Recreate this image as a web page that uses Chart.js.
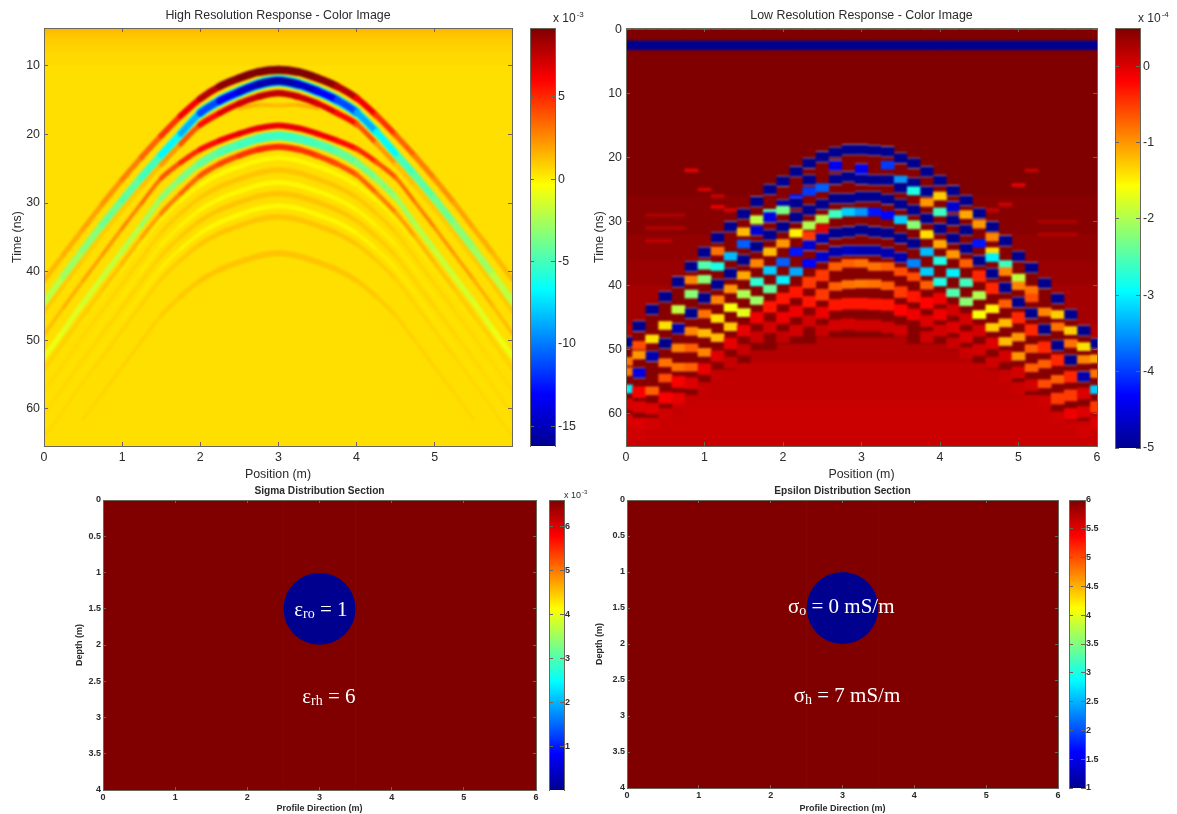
<!DOCTYPE html>
<html>
<head>
<meta charset="utf-8">
<title>GPR response</title>
<script src="https://cdn.jsdelivr.net/npm/chart.js@4/dist/chart.umd.min.js"></script>
<style>
html, body { margin: 0; padding: 0; background: #fff; width: 1177px; height: 814px; overflow: hidden; }
canvas { position: absolute; }
</style>
</head>
<body>
<script>
// ---- data ----

const jetStops = [[0, 0, 0, 143], [0.125, 0, 0, 255], [0.375, 0, 255, 255], [0.625, 255, 255, 0], [0.875, 255, 0, 0], [1, 128, 0, 0]];

const positionTicks = [0, 1, 2, 3, 4, 5, 6];
const hiResTimeTicks = [10, 20, 30, 40, 50, 60];
const lowResTimeTicks = [0, 10, 20, 30, 40, 50, 60];
const depthTicks = [0, 0.5, 1, 1.5, 2, 2.5, 3, 3.5, 4];
const hiResBarTicks = [5, 0, -5, -10, -15];
const lowResBarTicks = [0, -1, -2, -3, -4, -5];
const sigmaBarTicks = [1, 2, 3, 4, 5, 6];
const epsilonBarTicks = [1, 1.5, 2, 2.5, 3, 3.5, 4, 4.5, 5, 5.5, 6];

// high resolution panel: one time per position for each reflection band
const hiResPositions = [0, 0.25, 0.5, 0.75, 1, 1.25, 1.5, 1.75, 2, 2.25, 2.5, 2.75, 3, 3.25, 3.5, 3.75, 4, 4.25, 4.5, 4.75, 5, 5.25, 5.5, 5.75, 6];
const hiResFieldEdges = [4.4, 5, 5.5, 6, 7, 8, 10, 65.5];
const hiResFieldValues = [1.5, 1.25, 1.05, 0.9, 0.75, 0.6, 0.47];

const mainTimes = [44.5, 40.6, 36.8, 33.1, 29.6, 26.2, 23, 19.9, 16.9, 15.1, 13.8, 12.7, 12.2, 12.7, 13.7, 15, 16.8, 19.6, 22.8, 26, 29.4, 33, 36.7, 40.5, 44.4];
const mainValues = [-1.5, -2.5, -3, -3.6, -4.2, -4.6, -5.5, -6.5, -7, -7, -7, -7, -7, -7, -7, -7, -7, -6.5, -5.5, -4.6, -4.2, -3.6, -3, -2.5, -1.5];
const coreTimes = [null, null, null, null, null, null, 23, 19.9, 16.9, 15.1, 13.8, 12.7, 12.2, 12.7, 13.7, 15, 16.8, 19.6, 22.8, null, null, null, null, null, null];
const coreValues = [0, 0, 0, 0, 0, 0, -6, -7.5, -10, -12.5, -14, -15, -15.5, -15, -14, -12.5, -10, -7.5, -6, 0, 0, 0, 0, 0, 0];
const mainAboveTimes = [41.3, 37.5, 33.8, 30.1, 26.6, 23.3, 20.2, 17.3, 14.8, 13, 11.8, 10.9, 10.6, 10.9, 11.8, 13, 14.7, 17.2, 20.1, 23.2, 26.5, 30, 33.7, 37.4, 41.2];
const mainAboveValues = [1.3, 1.5, 1.8, 2.1, 2.6, 3.1, 4, 5.5, 7, 8.5, 9.2, 9.2, 9.2, 9.2, 9.2, 8.5, 7, 5.5, 4, 3.1, 2.6, 2.1, 1.8, 1.5, 1.3];
const mainBelowTimes = [45.9, 42, 38.2, 34.5, 31, 27.6, 24.4, 21.4, 18.6, 16.9, 15.5, 14.5, 14, 14.5, 15.5, 16.9, 18.5, 21.3, 24.3, 27.5, 30.9, 34.4, 38.1, 41.9, 45.8];
const mainBelowValues = [1, 1, 0.9, 0.9, 0.9, 1, 1.4, 3, 5, 6.5, 7, 7.5, 7.5, 7.5, 7, 6.5, 5, 3, 1.4, 1, 0.9, 0.9, 0.9, 1, 1];
const secondTimes = [52.5, 48.6, 44.6, 40.8, 37, 33.2, 29.3, 26.5, 24.2, 22.6, 21.5, 20.6, 20.2, 20.6, 21.4, 22.5, 24.1, 26.4, 29.2, 33.1, 36.9, 40.7, 44.5, 48.5, 52.4];
const secondValues = [-0.6, -1, -1.3, -1.6, -1.9, -2.4, -3, -3.5, -4, -4.5, -5, -5.2, -5.3, -5.2, -5, -4.5, -4, -3.5, -3, -2.4, -1.9, -1.6, -1.3, -1, -0.6];
const secondAboveTimes = [49.2, 45.2, 41.3, 37.5, 33.7, 30, 26.4, 24.1, 22.2, 20.9, 19.9, 19.1, 18.7, 19.1, 19.9, 20.9, 22.1, 24, 26.3, 29.9, 33.6, 37.4, 41.2, 45.1, 49.1];
const secondAboveValues = [1.2, 1.4, 1.8, 2.1, 2.4, 3, 3.5, 4.5, 5.5, 6, 6.5, 6.5, 6.5, 6.5, 6.5, 6, 5.5, 4.5, 3.5, 3, 2.4, 2.1, 1.8, 1.4, 1.2];
const secondBelowTimes = [54.3, 50.3, 46.4, 42.6, 38.8, 35, 31.5, 28.6, 26, 24.3, 23.1, 22.2, 21.8, 22.2, 23.1, 24.3, 25.9, 28.5, 31.4, 34.9, 38.7, 42.5, 46.3, 50.2, 54.2];
const secondBelowValues = [0.8, 0.8, 0.9, 1, 1.3, 1.6, 2.4, 3.2, 3.8, 4.2, 4.5, 5, 5, 5, 4.5, 4.2, 3.8, 3.2, 2.4, 1.6, 1.3, 1, 0.9, 0.8, 0.8];
const glitchTimes = [null, null, null, null, null, null, null, null, null, null, 16.2, 15.7, 15.8, 15.7, 16.2, null, null, null, null, null, null, null, null, null, null];
const glitchValues = [0, 0, 0, 0, 0, 0, 0, 0, 0, 0, 1.6, 1.6, 1.2, 1.6, 1.6, 0, 0, 0, 0, 0, 0, 0, 0, 0, 0];
const lowerArc1 = [57.4, 53.4, 49.4, 45.6, 41.8, 38, 34.3, 31.5, 29.2, 27.6, 26.5, 25.6, 25.2, 25.6, 26.5, 27.6, 29.2, 31.5, 34.3, 38, 41.8, 45.6, 49.4, 53.4, 57.4];
const lowerArc2 = [60.8, 56.8, 52.8, 49, 45.2, 41.4, 37.7, 34.9, 32.6, 31, 29.9, 29, 28.6, 29, 29.9, 31, 32.6, 34.9, 37.7, 41.4, 45.2, 49, 52.8, 56.8, 60.8];
const lowerArc3 = [64.2, 60.2, 56.2, 52.4, 48.6, 44.8, 41.1, 38.3, 36, 34.4, 33.3, 32.4, 32, 32.4, 33.3, 34.4, 36, 38.3, 41.1, 44.8, 48.6, 52.4, 56.2, 60.2, 64.2];
const lowerArc4 = [null, null, 61.5, 57.7, 53.9, 50.1, 46.4, 43.6, 41.3, 39.7, 38.6, 37.7, 37.3, 37.7, 38.6, 39.7, 41.3, 43.6, 46.4, 50.1, 53.9, 57.7, 61.5, null, null];
const lowerArcValues = [0.6, 0.62, 0.65, 0.68, 0.72, 0.78, 0.85, 0.95, 1.05, 1.1, 1.1, 1.1, 1.1, 1.1, 1.1, 1.1, 1.05, 0.95, 0.85, 0.78, 0.72, 0.68, 0.65, 0.62, 0.6];
const paleArc1 = [55.5, 51.5, 47.5, 43.7, 39.9, 36.1, 32.4, 29.6, 27.4, 25.8, 24.7, 23.8, 23.4, 23.8, 24.7, 25.8, 27.4, 29.6, 32.4, 36.1, 39.9, 43.7, 47.5, 51.5, 55.5];
const paleArc2 = [59.2, 55.2, 51.2, 47.4, 43.6, 39.8, 36.1, 33.3, 31, 29.4, 28.3, 27.4, 27, 27.4, 28.3, 29.4, 31, 33.3, 36.1, 39.8, 43.6, 47.4, 51.2, 55.2, 59.2];
const paleArc3 = [62.6, 58.6, 54.6, 50.8, 47, 43.2, 39.5, 36.7, 34.4, 32.8, 31.7, 30.8, 30.4, 30.8, 31.7, 32.8, 34.4, 36.7, 39.5, 43.2, 47, 50.8, 54.6, 58.6, 62.6];
const paleArcValues = [0.42, 0.4, 0.38, 0.35, 0.3, 0.2, 0.1, 0, -0.15, -0.2, -0.2, -0.2, -0.2, -0.2, -0.2, -0.2, -0.15, 0, 0.1, 0.2, 0.3, 0.35, 0.38, 0.4, 0.42];

// low resolution panel: 37 traces, each with the times and amplitudes of its visible cells
const lowResColumns = [0, 0.1667, 0.3333, 0.5, 0.6667, 0.8333, 1, 1.1667, 1.3333, 1.5, 1.6667, 1.8333, 2, 2.1667, 2.3333, 2.5, 2.6667, 2.8333, 3, 3.1667, 3.3333, 3.5, 3.6667, 3.8333, 4, 4.1667, 4.3333, 4.5, 4.6667, 4.8333, 5, 5.1667, 5.3333, 5.5, 5.6667, 5.8333, 6];
const lowResFieldEdges = [0, 1.8, 3.3, 26, 32, 36, 40, 46, 52, 58, 65.2];
const lowResFieldValues = [0.5, -5, 0.5, 0.45, 0.4, 0.36, 0.3, 0.22, 0.14, 0.1];
const lowResDarkTop = [48.8, 46.3, 43.7, 41.7, 39.4, 37, 34.8, 32.5, 30.8, 28.8, 26.9, 25, 23.7, 22.2, 20.9, 19.9, 19.2, 18.8, 18.7, 18.9, 19.1, 20.1, 20.9, 22.2, 23.6, 25.2, 26.7, 28.7, 30.8, 33, 35.4, 37.2, 39.6, 42, 44.5, 47, 49];
const lowResDarkEnd = [60, 61, 61, 60, 58, 57, 55, 54, 53, 52, 50, 50, 49, 49, 49, 48, 48, 48, 48, 48, 48, 48, 49, 49, 49, 50, 50, 52, 53, 54, 55, 57, 58, 60, 61, 61, 60];
const lowResTimes = [
  [48.8, 51.8, 53.4, 56.1, 58.5, 61, 63.5],
  [46.3, 49.3, 50.8, 53.6, 56.6, 58.9, 61.5, 63.5],
  [43.7, 48.3, 51, 56.4, 59.2, 61.5],
  [41.7, 46.2, 49, 52, 54.4, 57.5, 60],
  [39.4, 43.7, 46.7, 49.7, 52.7, 55, 57.6, 60],
  [37, 39.1, 41.3, 44.3, 47.1, 49.7, 52.7, 55.2, 58],
  [34.8, 36.8, 39, 41.9, 44.4, 47.4, 50.4, 53, 56],
  [32.5, 34.6, 37, 39.8, 42.2, 45.1, 48.1, 51, 54],
  [30.8, 35.4, 38.1, 40.5, 43.4, 46.4, 49, 52],
  [28.8, 31.6, 33.5, 36, 38.4, 41.3, 44.2, 47, 50],
  [26.9, 29.7, 31.4, 33.9, 36.5, 39.4, 42.3, 45, 48],
  [25, 28.7, 29.3, 32.1, 34.7, 37.6, 40.5, 43.3, 46.5],
  [23.7, 27.4, 28.2, 30.8, 33.4, 36.3, 39.1, 42, 45, 48],
  [22.2, 26.4, 27.1, 29.3, 31.8, 34.7, 37.8, 41, 44, 47],
  [20.9, 23.5, 25.3, 28.2, 30.6, 32.4, 33.7, 36.5, 39.5, 42.5, 45.5],
  [19.9, 24.7, 27.3, 29.6, 31.3, 32.6, 35.5, 38.4, 41.4, 44.2, 47],
  [19.2, 21.3, 23.4, 26.4, 28.8, 31.8, 34.7, 37, 40.1, 43, 46.2],
  [18.8, 23, 26.4, 28.5, 31.6, 34.5, 36.5, 39.8, 42.8, 46],
  [18.8, 21.8, 23.4, 26.1, 28.5, 31.3, 34.5, 36.5, 39.7, 42.8, 46.2],
  [18.9, 23.5, 26.1, 28.5, 31.6, 34.5, 37, 39.7, 42.9, 46.2],
  [19.1, 21.2, 23.5, 26.5, 29, 31.8, 34.9, 37, 40, 43, 46.5],
  [20.1, 23.5, 24.7, 27.3, 29.7, 32.6, 35.6, 37.8, 41, 43.8, 47],
  [20.9, 24, 25.2, 28.2, 30.5, 33.4, 36.5, 38.6, 41.7, 44.5],
  [22.2, 25.3, 27, 29.5, 32, 34.7, 37.8, 39.9, 42.7, 45.5, 48],
  [23.6, 26, 28.5, 31.1, 33.5, 36.1, 39.4, 42, 44.5, 47],
  [25.2, 27.7, 29.8, 32.6, 35.1, 38, 41.1, 43.8, 46.5, 49],
  [26.7, 28.9, 31.3, 34.2, 36.5, 39.5, 42.5, 45.2, 48, 50.5],
  [28.7, 30.4, 33.4, 36.1, 38.5, 41.5, 44.5, 47, 50],
  [30.8, 32.4, 34.7, 35.6, 38.1, 40.4, 43.6, 46.5, 49, 52],
  [33, 36.7, 37.8, 40.3, 42.8, 45.8, 48.7, 51, 54],
  [35.4, 38.8, 40, 42.6, 45, 48, 51, 53.5, 56],
  [37.2, 40.7, 41.9, 44.3, 46.9, 49.8, 52.8, 55.5, 58],
  [39.6, 44.1, 46.8, 49.6, 52.2, 55.3, 58],
  [42, 44.5, 46.4, 49.3, 51.6, 54.6, 57.6, 60.5],
  [44.5, 47, 49, 51.6, 54.2, 57.1, 60, 62.5],
  [47, 49.5, 51.5, 54.2, 56.8, 59.7, 62.6],
  [49, 51.4, 53.7, 56.2, 58.9, 61.5, 64]
];
const lowResValues = [
  [-5, -0.8, -0.8, -3, 0, 0, 0.05],
  [-5, -0.6, -1, -4.5, -0.15, 0, 0, 0.08],
  [-5, -1.4, -4.8, -0.7, 0, 0.05],
  [-5, -1.4, -5, -0.8, -0.6, -0.15, 0.08],
  [-5, -1.9, -4.8, -0.9, -0.8, -0.15, -0.05, 0.12],
  [-5, -0.9, -2.2, -5, -0.9, -0.7, -0.7, 0, 0.12],
  [-5, -2.5, -2.2, -5, -0.8, -1.2, -0.9, -0.05, 0.12],
  [-5, -0.8, -2.8, -5, -0.9, -1.4, -1.2, 0, 0.12],
  [-5, -3.3, -5, -1, -1.6, -1.3, -0.05, 0.12],
  [-5, -1.2, -3.8, -5, -1.1, -2, -1.7, -0.05, 0.12],
  [-5, -1.9, -4.6, -5, -0.9, -2.7, -2.1, -0.1, 0.1],
  [-5, -2.5, -4.5, -5, -1.2, -3.2, -2.4, -0.3, 0.05],
  [-5, -4.8, -2.3, -5, -1, -3.8, -3, -0.3, -0.1, 0.14],
  [-5, -4.2, -5, -5, -1.5, -4.2, -3.4, -0.3, -0.1, 0.05],
  [-5, -5, -4, -5, -2, -0.5, -4.6, -4.3, -0.5, -0.3, 0.05],
  [-5, -3.8, -5, -2, 0, -4.8, -4.6, -0.5, -0.5, -0.1, 0.1],
  [-5, -4.4, -5, -5, -2.6, -5, -4.8, -0.7, -0.7, -0.3, 0.05],
  [-5, -5, -5, -3.2, -5, -4.7, -0.7, -0.8, -0.3, 0.05],
  [-5, -4.4, -5, -5, -3.5, -5, -4.8, -0.8, -0.85, -0.3, 0.08],
  [-5, -5, -5, -4.2, -5, -4.8, -0.8, -0.8, -0.3, 0.08],
  [-5, -4, -5, -5, -4.3, -5, -4.8, -0.7, -0.7, -0.3, 0.08],
  [-5, -3.5, -5, -5, -3.2, -5, -4.8, -0.6, -0.5, -0.2, 0.08],
  [-5, -5, -2.8, -5, -2.2, -5, -3.6, -0.6, -0.3, -0.1],
  [-5, -5, -1, -5, -1.4, -3.3, -3.2, -0.7, -0.2, 0, 0.08],
  [-5, -1.3, -2.6, -5, -1.1, -2.8, -2.8, -0.1, -0.1, 0.05],
  [-5, -4.6, -5, -5, -1, -3, -2.5, 0.05, 0, 0.1],
  [-5, -1.1, -5, -5, -0.7, -2.6, -2.2, 0.05, 0, 0.1],
  [-5, -1, -4.2, -5, -0.4, -2, -1.6, 0.05, 0.05],
  [-5, -0.9, -1.4, -3, -5, -0.4, -1.5, -1.3, 0, 0.08],
  [-5, -2.6, -0.9, -5, -0.7, -1.2, -1.2, 0.05, 0.1],
  [-5, -1.9, -0.9, -5, -0.4, -1, -1, 0.05, 0.1],
  [-5, -0.8, -0.6, -5, -0.4, -0.7, -0.7, 0.05, 0.1],
  [-5, -0.9, -5, -0.4, -0.7, -0.6, 0.08],
  [-5, -1.3, -0.8, -5, -0.4, -0.7, -0.5, 0.08],
  [-5, -1.3, -0.8, -5, -0.4, -0.5, -0.1, 0.1],
  [-5, -1.4, -0.9, -4.8, 0, 0, 0.05],
  [-5, -1.1, -0.8, -3.2, -0.5, 0, 0.1]
];
// faint thin streaks outside the hyperbola
const streakColumns = [5, 6, 7, 7, 8, 31, 30, 29, 28, 2, 3, 4, 2, 3, 4, 2, 3, 34, 33, 32, 34, 33, 32];
const streakTimes = [22, 25, 26, 27.7, 28.2, 22, 24.3, 27.3, 28.2, 29, 29, 29, 31, 31, 31, 33, 33, 30, 30, 30, 32, 32, 32];
const streakValues = [-0.1, 0, 0.1, -0.1, 0, 0.1, -0.1, 0.05, 0.1, 0.25, 0.25, 0.25, 0.2, 0.2, 0.2, 0.15, 0.15, 0.25, 0.25, 0.25, 0.2, 0.2, 0.2];

// model sections: a circle inside a uniform host
const sectionX = [0, 1, 2, 3, 4, 5, 6];
const sectionHostDepth = [0, 4];
const circleX = [3];
const circleDepth = [1.5];
const circleRadius = [0.5];
const sigmaHostValue = 6.6;
const sigmaCircleValue = 0;
const epsilonHostValue = 6;
const epsilonCircleValue = 1;

// ---- helpers ----

function jetColor(value, low, high) {
    let f = Math.min(1, Math.max(0, (value - low) / (high - low)));
    for (let i = 1; i < jetStops.length; i++) {
        if (f <= jetStops[i][0]) {
            let a = jetStops[i - 1];
            let b = jetStops[i];
            let t = (f - a[0]) / (b[0] - a[0]);
            return "rgb(" + Math.round(a[1] + (b[1] - a[1]) * t) + "," + Math.round(a[2] + (b[2] - a[2]) * t) + "," + Math.round(a[3] + (b[3] - a[3]) * t) + ")";
        }
    }
    return "rgb(128,0,0)";
}

const frameColor = "#6b665c";
const textColor = "#2b2b2b";

function makeCanvas(left, top, right, bottom) {
    let c = document.createElement("canvas");
    c.width = right - left;
    c.height = bottom - top;
    c.style.left = left + "px";
    c.style.top = top + "px";
    document.body.appendChild(c);
    return c;
}

function frameAxis(position, min, max, tickList, reach, extra) {
    let vertical = position === "left" || position === "right";
    return {
        type: "linear",
        position: position,
        min: min,
        max: max,
        offset: false,
        reverse: vertical && extra.reverse,
        afterBuildTicks: function (scale) { scale.ticks = tickList.map(v => ({ value: v })); },
        afterFit: function (scale) {
            if (vertical) { scale.width = reach; } else { scale.height = reach; }
        },
        grid: { drawOnChartArea: false, offset: false, tickLength: -extra.tick, tickColor: frameColor, z: 1 },
        border: { color: frameColor, z: 1 },
        ticks: {
            autoSkip: false, maxRotation: 0, minRotation: 0, padding: extra.pad + extra.tick,
            color: textColor, font: extra.font,
            callback: extra.noLabels ? (() => "") : (v => String(v))
        },
        title: extra.title ? { display: true, text: extra.title, color: textColor, font: extra.font, padding: { top: extra.titlePad, bottom: 0 } } : { display: false }
    };
}

function plotScales(xRange, yRange, xTicks, yTicks, g) {
    let common = { tick: g.tick, pad: g.pad, font: g.font, reverse: true };
    let bare = Object.assign({}, common, { noLabels: true });
    return {
        x: frameAxis("bottom", xRange[0], xRange[1], xTicks, g.bottom, Object.assign({}, common, { title: g.xTitle, titlePad: g.xTitlePad })),
        y: frameAxis("left", yRange[0], yRange[1], yTicks, g.left, Object.assign({}, common, { title: g.yTitle, titlePad: g.yTitlePad })),
        xTop: frameAxis("top", xRange[0], xRange[1], xTicks, 0, bare),
        yRight: frameAxis("right", yRange[0], yRange[1], yTicks, g.left, bare)
    };
}

// the reference is a soft scan: blur the finished marks once, inside the plot
function softPlugin(radius) {
    return {
        id: "soft",
        afterDatasetsDraw(chart) {
            let a = chart.chartArea;
            let ctx = chart.ctx;
            ctx.save();
            ctx.beginPath();
            ctx.rect(a.left, a.top, a.right - a.left, a.bottom - a.top);
            ctx.clip();
            ctx.filter = "blur(" + radius + "px)";
            ctx.drawImage(chart.canvas, 0, 0);
            ctx.restore();
        }
    };
}

function backdropPlugin(color) {
    return {
        id: "backdrop",
        beforeDatasetsDraw(chart) {
            let a = chart.chartArea;
            chart.ctx.save();
            chart.ctx.fillStyle = color;
            chart.ctx.fillRect(a.left, a.top, a.right - a.left, a.bottom - a.top);
            chart.ctx.restore();
        }
    };
}

function basePlugins(title, g) {
    return {
        legend: { display: false },
        tooltip: { enabled: false },
        title: {
            display: true, text: title, color: textColor,
            font: Object.assign({ lineHeight: 1 }, g.headFont),
            padding: { top: g.headTop, bottom: g.headBottom }
        }
    };
}

function bandDataset(times, values, thick, order, low, high) {
    return {
        type: "line",
        order: order,
        data: hiResPositions.map((p, i) => ({ x: p, y: times[i] })),
        pointRadius: 0,
        tension: 0.3,
        borderCapStyle: "round",
        borderColor: "transparent",
        segment: {
            borderWidth: function (ctx) {
                let dx = ctx.p1.x - ctx.p0.x;
                let dy = ctx.p1.y - ctx.p0.y;
                return thick * 6.86 * Math.abs(dx) / Math.sqrt(dx * dx + dy * dy);
            },
            borderColor: function (ctx) {
                return jetColor((values[ctx.p0DataIndex] + values[ctx.p1DataIndex]) / 2, low, high);
            }
        }
    };
}

function colorBar(box, plot, low, high, tickList, font, pad, exponent) {
    let canvas = makeCanvas(box[0], box[1], box[2], box[3]);
    let exponentPlugin = {
        id: "exponent",
        afterDraw(chart) {
            if (!exponent) { return; }
            let ctx = chart.ctx;
            ctx.save();
            ctx.fillStyle = textColor;
            ctx.textBaseline = "alphabetic";
            ctx.font = exponent.font + "px 'Liberation Sans'";
            ctx.fillText("x 10", exponent.x - box[0], exponent.y - box[1]);
            let w = ctx.measureText("x 10").width;
            ctx.font = Math.round(exponent.font * 0.65) + "px 'Liberation Sans'";
            ctx.fillText(exponent.power, exponent.x - box[0] + w + 1, exponent.y - box[1] - exponent.font * 0.42);
            ctx.restore();
        }
    };
    return new Chart(canvas, {
        type: "bar",
        data: {
            labels: ["scale"],
            datasets: [{
                data: [[low, high]],
                barPercentage: 1,
                categoryPercentage: 1,
                backgroundColor: function (ctx) {
                    let area = ctx.chart.chartArea;
                    if (!area) { return "#800000"; }
                    let grad = ctx.chart.ctx.createLinearGradient(0, area.bottom, 0, area.top);
                    jetStops.forEach(s => grad.addColorStop(s[0], "rgb(" + s[1] + "," + s[2] + "," + s[3] + ")"));
                    return grad;
                }
            }]
        },
        options: {
            responsive: false,
            animation: false,
            events: [],
            layout: { autoPadding: false, padding: { left: plot[0] - box[0], top: plot[1] - box[1], bottom: box[3] - plot[3], right: 0 } },
            plugins: { legend: { display: false }, tooltip: { enabled: false } },
            scales: {
                x: { display: false },
                y: frameAxis("right", low, high, tickList, box[2] - plot[2], { tick: 4, pad: pad, font: font, reverse: false }),
                yLeft: frameAxis("left", low, high, tickList, 0, { tick: 4, pad: pad, font: font, reverse: false, noLabels: true }),
                xTop: { type: "linear", position: "top", afterFit(s) { s.height = 0; }, ticks: { display: false }, grid: { display: false }, border: { color: frameColor, z: 1 } }
            }
        },
        plugins: [exponentPlugin]
    });
}

function sectionLabelPlugin(labels) {
    return {
        id: "sectionLabels",
        afterDatasetsDraw(chart) {
            let ctx = chart.ctx;
            ctx.save();
            ctx.fillStyle = "#fff";
            ctx.textBaseline = "alphabetic";
            labels.forEach(function (l) {
                let x = chart.scales.x.getPixelForValue(l.x);
                let y = chart.scales.y.getPixelForValue(l.y);
                ctx.font = "21px 'Liberation Serif'";
                ctx.fillText(l.symbol, x, y);
                x += ctx.measureText(l.symbol).width;
                ctx.font = "14px 'Liberation Serif'";
                ctx.fillText(l.sub, x, y + 2);
                x += ctx.measureText(l.sub).width;
                ctx.font = "21px 'Liberation Serif'";
                ctx.wordSpacing = "1.5px";
                ctx.fillText(l.rest, x, y);
                ctx.wordSpacing = "0px";
            });
            ctx.restore();
        }
    };
}

// ---- panels ----

const topFont = { family: "'Liberation Sans'", size: 12.4 };
const sectionFont = { family: "'Liberation Sans'", size: 9, weight: "bold" };
const sectionHeadFont = { family: "'Liberation Sans'", size: 10.2, weight: "bold" };
const topHeadFont = { family: "'Liberation Sans'", size: 12.4, weight: "normal" };

function init() {
    drawHighRes();
    drawLowRes();
    drawSection("Sigma Distribution Section", [60, 482, 579, 814], [103, 500, 536, 790], 43, sigmaHostValue, sigmaCircleValue, 0, 6.6,
        [{ x: 2.65, y: 1.6, symbol: "\u03b5", sub: "ro", rest: " = 1" }, { x: 2.76, y: 2.8, symbol: "\u03b5", sub: "rh", rest: " = 6" }], 14.5);
    drawSection("Epsilon Distribution Section", [590, 482, 1095, 814], [627, 500, 1058, 788], 37, epsilonHostValue, epsilonCircleValue, 1, 6,
        [{ x: 2.24, y: 1.57, symbol: "\u03c3", sub: "o", rest: " = 0 mS/m" }, { x: 2.32, y: 2.8, symbol: "\u03c3", sub: "h", rest: " = 7 mS/m" }], 4);
    colorBar([525, 0, 585, 482], [530, 28, 555, 446], -16.2, 9.18, hiResBarTicks, topFont, 3, { x: 553, y: 22, font: 12, power: "-3" });
    colorBar([1110, 0, 1177, 482], [1115, 28, 1140, 448], -5, 0.5, lowResBarTicks, topFont, 3, { x: 1138, y: 22, font: 12, power: "-4" });
    colorBar([544, 482, 600, 814], [549, 500, 564, 790], 0, 6.6, sigmaBarTicks, sectionFont, 1, { x: 564, y: 498, font: 9, power: "-3" });
    colorBar([1064, 482, 1110, 814], [1069, 500, 1085, 788], 1, 6, epsilonBarTicks, sectionFont, 1, null);
}

function drawHighRes() {
    let low = -16.2, high = 9.18;
    let canvas = makeCanvas(0, 0, 556, 482);
    let datasets = [];
    let field = [];
    let fieldColors = [];
    hiResFieldValues.forEach(function (v, r) {
        hiResPositions.forEach(function (p) {
            field.push({ x: p, y: [hiResFieldEdges[r], hiResFieldEdges[r + 1]] });
            fieldColors.push(jetColor(v, low, high));
        });
    });
    datasets.push({ type: "bar", order: 50, data: field, backgroundColor: fieldColors, barPercentage: 1, categoryPercentage: 1, grouped: false });
    datasets.push(bandDataset(lowerArc4, lowerArcValues, 0.9, 40, low, high));
    datasets.push(bandDataset(lowerArc3, lowerArcValues, 0.8, 39, low, high));
    datasets.push(bandDataset(paleArc3, paleArcValues, 0.7, 38, low, high));
    datasets.push(bandDataset(lowerArc2, lowerArcValues, 0.8, 37, low, high));
    datasets.push(bandDataset(paleArc2, paleArcValues, 0.7, 36, low, high));
    datasets.push(bandDataset(lowerArc1, lowerArcValues, 0.8, 35, low, high));
    datasets.push(bandDataset(paleArc1, paleArcValues, 0.7, 34, low, high));
    datasets.push(bandDataset(glitchTimes, glitchValues, 0.6, 33, low, high));
    datasets.push(bandDataset(secondBelowTimes, secondBelowValues, 0.9, 30, low, high));
    datasets.push(bandDataset(secondAboveTimes, secondAboveValues, 0.9, 29, low, high));
    datasets.push(bandDataset(secondTimes, secondValues, 1.3, 28, low, high));
    datasets.push(bandDataset(mainBelowTimes, mainBelowValues, 1.0, 27, low, high));
    datasets.push(bandDataset(mainAboveTimes, mainAboveValues, 1.2, 26, low, high));
    datasets.push(bandDataset(mainTimes, mainValues, 1.7, 25, low, high));
    datasets.push(bandDataset(coreTimes, coreValues, 1.2, 24, low, high));

    let g = {
        tick: 4, pad: 4, font: topFont, bottom: 36, left: 44,
        xTitle: "Position (m)", xTitlePad: 5, yTitle: "Time (ns)", yTitlePad: 10
    };
    new Chart(canvas, {
        type: "bar",
        data: { datasets: datasets },
        options: {
            responsive: false,
            animation: false,
            events: [],
            layout: { autoPadding: false, padding: 0 },
            plugins: basePlugins("High Resolution Response - Color Image", { headFont: topHeadFont, headTop: 9.5, headBottom: 6.1 }),
            scales: plotScales([0, 5.99], [4.5, 65.4], positionTicks.slice(0, 6), hiResTimeTicks, g)
        },
        plugins: [backdropPlugin(jetColor(0.47, low, high)), softPlugin(1.3)]
    });
}

function drawLowRes() {
    let low = -5, high = 0.5;
    let canvas = makeCanvas(586, 0, 1137, 482);
    let field = [], fieldColors = [];
    lowResFieldValues.forEach(function (v, r) {
        lowResColumns.forEach(function (c) {
            field.push({ x: c, y: [lowResFieldEdges[r], lowResFieldEdges[r + 1]] });
            fieldColors.push(jetColor(v, low, high));
        });
    });
    let dark = lowResColumns.map((c, k) => ({ x: c, y: [lowResDarkTop[k], lowResDarkEnd[k]] }));
    let cells = [], cellColors = [], cellBlue = [];
    lowResColumns.forEach(function (c, k) {
        lowResTimes[k].forEach(function (t, j) {
            let v = lowResValues[k][j];
            let half = v <= -4.4 ? 0.85 : (v > -0.6 ? 0.85 : 0.62);
            cells.push({ x: c, y: [t - half, t + half] });
            cellColors.push(jetColor(v, low, high));
            cellBlue.push(v <= -4.4);
        });
    });
    let streaks = streakColumns.map((k, i) => ({ x: lowResColumns[k], y: [streakTimes[i] - 0.22, streakTimes[i] + 0.22] }));

    let bars = { type: "bar", barPercentage: 1, categoryPercentage: 1, grouped: false };
    let datasets = [
        Object.assign({}, bars, {
            order: 1, data: cells, backgroundColor: cellColors, borderSkipped: false,
            borderColor: "rgba(157,179,207,0.75)",
            borderWidth: ctx => cellBlue[ctx.dataIndex] ? { top: 1, bottom: 1, left: 0, right: 0 } : 0
        }),
        Object.assign({}, bars, { order: 2, data: streaks, backgroundColor: streakValues.map(v => jetColor(v, low, high)) }),
        Object.assign({}, bars, { order: 3, data: dark, backgroundColor: jetColor(0.46, low, high) }),
        Object.assign({}, bars, { order: 4, data: field, backgroundColor: fieldColors })
    ];
    let g = {
        tick: 4, pad: 4, font: topFont, bottom: 36, left: 40,
        xTitle: "Position (m)", xTitlePad: 5, yTitle: "Time (ns)", yTitlePad: 6
    };
    new Chart(canvas, {
        type: "bar",
        data: { datasets: datasets },
        options: {
            responsive: false,
            animation: false,
            events: [],
            layout: { autoPadding: false, padding: 0 },
            plugins: basePlugins("Low Resolution Response - Color Image", { headFont: topHeadFont, headTop: 9.5, headBottom: 6.1 }),
            scales: plotScales([0, 6], [-0.2, 65], positionTicks, lowResTimeTicks, g)
        },
        plugins: [softPlugin(0.9)]
    });
}

function drawSection(title, box, plot, leftGutter, hostValue, circleValue, low, high, labels, titlePad) {
    let canvas = makeCanvas(box[0], box[1], box[2], box[3]);
    let g = {
        tick: 3, pad: 2, font: sectionFont, bottom: box[3] - plot[3], left: leftGutter,
        xTitle: "Profile Direction (m)", xTitlePad: 3, yTitle: "Depth (m)", yTitlePad: titlePad
    };
    new Chart(canvas, {
        type: "bar",
        data: {
            datasets: [
                {
                    type: "scatter", order: 1,
                    data: circleX.map((x, i) => ({ x: x, y: circleDepth[i] })),
                    backgroundColor: jetColor(circleValue, low, high),
                    borderWidth: 0,
                    pointRadius: function (ctx) {
                        let s = ctx.chart.scales.x;
                        return s.getPixelForValue(circleRadius[ctx.dataIndex] || 0) - s.getPixelForValue(0);
                    }
                },
                {
                    type: "bar", order: 2,
                    data: sectionX.map(x => ({ x: x, y: sectionHostDepth })),
                    backgroundColor: jetColor(hostValue, low, high),
                    barPercentage: 1, categoryPercentage: 1, grouped: false
                }
            ]
        },
        options: {
            responsive: false,
            animation: false,
            events: [],
            layout: { autoPadding: false, padding: 0 },
            plugins: basePlugins(title, { headFont: sectionHeadFont, headTop: 4, headBottom: plot[1] - box[1] - 14.2 }),
            scales: plotScales([0, 6], [0, 4], positionTicks, depthTicks, g)
        },
        plugins: [sectionLabelPlugin(labels)]
    });
}

window.addEventListener("DOMContentLoaded", init);
</script>
</body>
</html>
